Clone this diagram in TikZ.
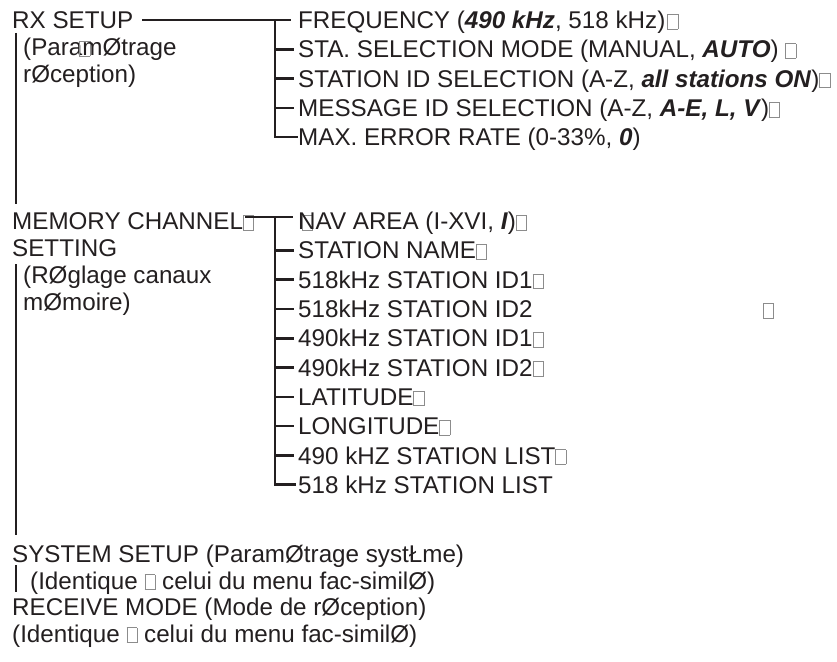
\documentclass[tikz,border=0pt]{standalone}
\usepackage{fontspec}
\setmainfont{Liberation Sans}
\definecolor{ink}{RGB}{35,31,32}
\definecolor{tofugray}{RGB}{140,140,140}
\newcommand\tofubox{{\color{tofugray}\setlength\fboxsep{0pt}\setlength\fboxrule{0.7pt}\fbox{\rule{0pt}{14pt}\hspace{9.5pt}}}}
\newcommand\bi[1]{\textbf{\textit{#1}}}
\begin{document}
\begin{tikzpicture}[x=1pt,y=-1pt,
  lbl/.style={anchor=west,inner sep=0pt,text height=17.3pt,text depth=0pt,text=ink,
    font=\fontsize{24.2}{28}\selectfont},
  tree/.style={draw=ink,line width=2.6pt,line join=miter,line cap=butt},
  bar/.style={draw=ink,line width=2.8pt}]
\useasboundingbox (0,0) rectangle (837,661);
\coordinate (lx) at (16,0);
\coordinate (t1) at (275,0);
% RX SETUP group
\node[lbl] (rx) at (12,20) {RX SETUP};
\node[lbl] (rx2) at (23,47) {(Para\rlap{\kern-3pt\tofubox}mØtrage};
\node[lbl] (rx3) at (23,74) {rØception)};
\node[lbl] (f1) at (298,20) {FREQUENCY (\bi{490 kHz}, 518 kHz)\kern2pt\tofubox};
\node[lbl] (f2) at (298,49.3) {STA. SELECTION MODE (MANUAL, \bi{AUTO}) \tofubox};
\node[lbl] (f3) at (298,78.6) {STATION ID SELECTION (A-Z, \bi{all stations ON})\tofubox};
\node[lbl] (f4) at (298,108) {MESSAGE ID SELECTION (A-Z, \bi{A-E, L, V})\tofubox};
\node[lbl] (f5) at (298,137) {MAX. ERROR RATE (0-33\%, \bi{0})};
% MEMORY group
\node[lbl] (mem) at (12,221) {MEMORY CHANNEL\tofubox};
\node[lbl] (mem2) at (12,248) {SETTING};
\node[lbl] (mem3) at (23,275) {(RØglage canaux};
\node[lbl] (mem4) at (23,302) {mØmoire)};
\node[lbl] (m1) at (298,221) {\rlap{\kern4pt\tofubox}NAV AREA (I-XVI, \bi{I})\tofubox};
\node[lbl] (m2) at (298,250.3) {STATION NAME\tofubox};
\node[lbl] (m3) at (298,279.6) {518kHz STATION ID1\tofubox};
\node[lbl] (m4) at (298,308.9) {\makebox[465pt][l]{518kHz STATION ID2}\tofubox};
\node[lbl] (m5) at (298,338.2) {490kHz STATION ID1\tofubox};
\node[lbl] (m6) at (298,367.5) {490kHz STATION ID2\tofubox};
\node[lbl] (m7) at (298,396.8) {LATITUDE\tofubox};
\node[lbl] (m8) at (298,426.1) {LONGITUDE\tofubox};
\node[lbl] (m9) at (298,455.4) {490 kHZ STATION LIST\tofubox};
\node[lbl] (m10) at (298,484.7) {518 kHz STATION LIST};
% bottom
\node[lbl] (sys) at (12,554) {SYSTEM SETUP (ParamØtrage systŁme)};
\node[lbl] (sys2) at (30,580.5) {(Identique \tofubox\ celui du menu fac-similØ)};
\node[lbl] (rec) at (12,607) {RECEIVE MODE (Mode de rØception)};
\node[lbl] (rec2) at (12,633.5) {(Identique \tofubox\ celui du menu fac-similØ)};
% left vertical lines
\draw[bar] ([yshift=14pt]rx2.west -| lx) -- ([yshift=17pt]mem.west -| lx);
\draw[bar] ([yshift=11pt]mem3.west -| lx) -- ([yshift=19pt]sys.west -| lx);
\draw[bar] ([yshift=15.5pt]sys2.west -| lx) -- ([yshift=-11.5pt]sys2.west -| lx);
% tree 1
\draw[tree] ([xshift=9pt]rx.east) -- ([xshift=-7pt]f1.west);
\draw[tree] (f1.west -| t1) |- (f5.west);
\foreach \n in {f2,f3,f4} \draw[tree] (\n.west -| t1) -- ([xshift=-4pt]\n.west);
% tree 2
\draw[tree] ([xshift=-9pt,yshift=4pt]mem.east) -- ([xshift=-5pt,yshift=4pt]m1.west);
\draw[tree] ([yshift=4pt]m1.west -| t1) |- ([xshift=-2pt]m10.west);
\foreach \n in {m2,m3,m4,m5,m6,m7,m8,m9} \draw[tree] (\n.west -| t1) -- ([xshift=-4pt]\n.west);
\end{tikzpicture}
\end{document}
